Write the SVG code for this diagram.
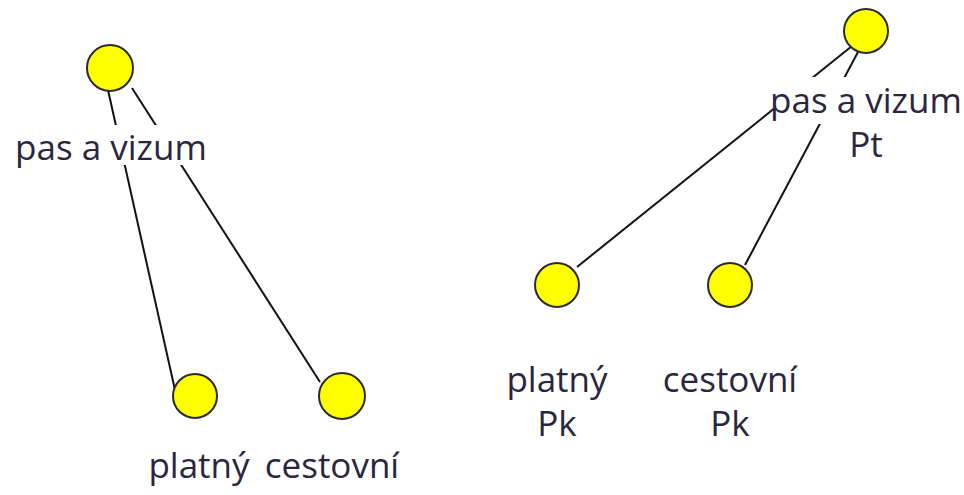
<svg xmlns="http://www.w3.org/2000/svg" width="964" height="495" viewBox="0 0 964 495">
<style>
.n{fill:#ffff00;stroke:#2a2a2a;stroke-width:2}
.t{font-family:"Open Sans","Noto Sans",sans-serif;font-size:35px;fill:#2b2640;text-anchor:middle}
.bg{fill:#ffffff}
.c{stroke:#111;stroke-width:2;fill:none}
</style>
<rect width="964" height="495" fill="#ffffff"/>
<g id="connectors">
<line class="c" x1="108" y1="90" x2="175" y2="390"/>
<line class="c" x1="132" y1="88" x2="320" y2="382"/>
<line class="c" x1="852" y1="46" x2="577" y2="267"/>
<line class="c" x1="858" y1="52" x2="745" y2="265"/>
</g>
<g id="n-left-top">
<rect class="bg" x="10" y="125" width="203" height="40"/>
<circle class="n" cx="110" cy="68" r="23"/>
<text class="t" x="111" y="160">pas a vizum</text>
</g>
<g id="n-left-platny">
<circle class="n" cx="195" cy="396" r="22"/>
<text class="t" x="199" y="478">platný</text>
</g>
<g id="n-left-cestovni">
<circle class="n" cx="342" cy="396" r="23"/>
<text class="t" x="332" y="478">cestovní</text>
</g>
<g id="n-right-top">
<rect class="bg" x="776" y="77" width="186" height="47"/>
<rect class="bg" x="848" y="124" width="40" height="42"/>
<circle class="n" cx="866" cy="31" r="22"/>
<text class="t" x="866" y="113">pas a vizum</text>
<text class="t" x="866" y="157">Pt</text>
</g>
<g id="n-right-platny">
<circle class="n" cx="557" cy="285" r="22"/>
<text class="t" x="557" y="392">platný</text>
<text class="t" x="557" y="436">Pk</text>
</g>
<g id="n-right-cestovni">
<circle class="n" cx="730" cy="285" r="22"/>
<text class="t" x="730" y="392">cestovní</text>
<text class="t" x="730" y="436">Pk</text>
</g>
</svg>
